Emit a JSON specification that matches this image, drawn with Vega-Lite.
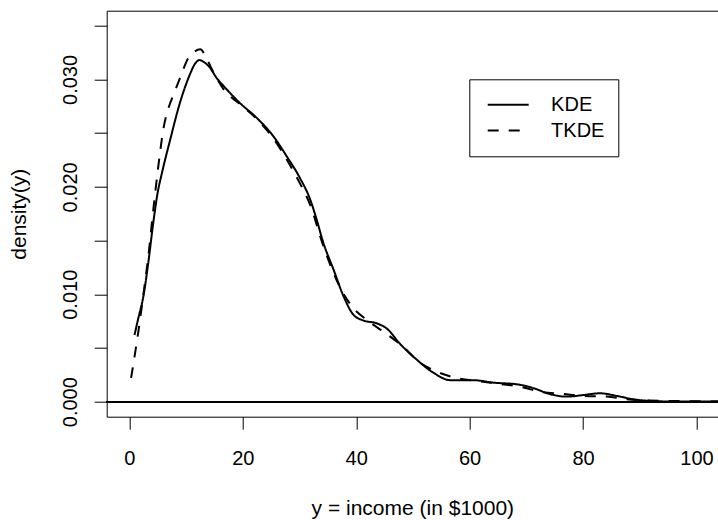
{
  "$schema": "https://vega.github.io/schema/vega-lite/v6.json",
  "width": 611.3,
  "height": 406,
  "autosize": {"type": "none"},
  "padding": {"left": 106.7, "top": 10.7, "right": 0, "bottom": 103.3},
  "background": "white",
  "config": {
    "font": "Liberation Sans",
    "view": {"stroke": "black", "strokeWidth": 1, "strokeDash": [611.3, 3000]},
    "axis": {
      "grid": false,
      "domainColor": "black",
      "tickColor": "black",
      "labelColor": "black",
      "titleColor": "black",
      "labelFont": "Liberation Sans",
      "titleFont": "Liberation Sans",
      "labelFontSize": 20,
      "titleFontSize": 21,
      "titleFontWeight": "normal",
      "tickSize": 12.5,
      "domainWidth": 1,
      "tickWidth": 1
    }
  },
  "data": {
    "values": [
      {"income": 0.9, "density": 0.0062, "method": "KDE"},
      {"income": 1.5, "density": 0.0076, "method": "KDE"},
      {"income": 2.5, "density": 0.0099, "method": "KDE"},
      {"income": 3.3, "density": 0.0128, "method": "KDE"},
      {"income": 4.2, "density": 0.0166, "method": "KDE"},
      {"income": 5.0, "density": 0.0195, "method": "KDE"},
      {"income": 5.7, "density": 0.0212, "method": "KDE"},
      {"income": 7.2, "density": 0.0244, "method": "KDE"},
      {"income": 8.9, "density": 0.0278, "method": "KDE"},
      {"income": 10.7, "density": 0.0305, "method": "KDE"},
      {"income": 11.5, "density": 0.0314, "method": "KDE"},
      {"income": 12.3, "density": 0.0318, "method": "KDE"},
      {"income": 13.2, "density": 0.0316, "method": "KDE"},
      {"income": 14.2, "density": 0.0311, "method": "KDE"},
      {"income": 15.3, "density": 0.0302, "method": "KDE"},
      {"income": 16.6, "density": 0.0294, "method": "KDE"},
      {"income": 18.0, "density": 0.0286, "method": "KDE"},
      {"income": 19.5, "density": 0.0278, "method": "KDE"},
      {"income": 22.5, "density": 0.0264, "method": "KDE"},
      {"income": 25.4, "density": 0.0247, "method": "KDE"},
      {"income": 27.8, "density": 0.0228, "method": "KDE"},
      {"income": 30.1, "density": 0.0208, "method": "KDE"},
      {"income": 31.9, "density": 0.0188, "method": "KDE"},
      {"income": 33.0, "density": 0.0170, "method": "KDE"},
      {"income": 34.2, "density": 0.0148, "method": "KDE"},
      {"income": 36.0, "density": 0.0123, "method": "KDE"},
      {"income": 37.7, "density": 0.0099, "method": "KDE"},
      {"income": 39.5, "density": 0.0081, "method": "KDE"},
      {"income": 41.3, "density": 0.00755, "method": "KDE"},
      {"income": 43.6, "density": 0.0073, "method": "KDE"},
      {"income": 45.4, "density": 0.0068, "method": "KDE"},
      {"income": 47.7, "density": 0.0054, "method": "KDE"},
      {"income": 50.7, "density": 0.0039, "method": "KDE"},
      {"income": 53.6, "density": 0.0027, "method": "KDE"},
      {"income": 56.6, "density": 0.0020, "method": "KDE"},
      {"income": 60.7, "density": 0.0020, "method": "KDE"},
      {"income": 64.2, "density": 0.00177, "method": "KDE"},
      {"income": 68.3, "density": 0.00162, "method": "KDE"},
      {"income": 71.3, "density": 0.00125, "method": "KDE"},
      {"income": 74.2, "density": 0.0007, "method": "KDE"},
      {"income": 77.1, "density": 0.00047, "method": "KDE"},
      {"income": 80.1, "density": 0.00062, "method": "KDE"},
      {"income": 83.0, "density": 0.00078, "method": "KDE"},
      {"income": 86.0, "density": 0.00053, "method": "KDE"},
      {"income": 88.9, "density": 0.00022, "method": "KDE"},
      {"income": 91.8, "density": 0.00007, "method": "KDE"},
      {"income": 95.0, "density": 0.00002, "method": "KDE"},
      {"income": 100.0, "density": 0.00001, "method": "KDE"},
      {"income": 103.8, "density": 0.0, "method": "KDE"},
      {"income": 0.3, "density": 0.0022, "method": "TKDE"},
      {"income": 1.0, "density": 0.0045, "method": "TKDE"},
      {"income": 1.6, "density": 0.0066, "method": "TKDE"},
      {"income": 2.2, "density": 0.0089, "method": "TKDE"},
      {"income": 2.8, "density": 0.0113, "method": "TKDE"},
      {"income": 3.4, "density": 0.0138, "method": "TKDE"},
      {"income": 4.0, "density": 0.0168, "method": "TKDE"},
      {"income": 4.5, "density": 0.0192, "method": "TKDE"},
      {"income": 5.1, "density": 0.0219, "method": "TKDE"},
      {"income": 6.0, "density": 0.0254, "method": "TKDE"},
      {"income": 7.0, "density": 0.0275, "method": "TKDE"},
      {"income": 7.8, "density": 0.0286, "method": "TKDE"},
      {"income": 8.9, "density": 0.0301, "method": "TKDE"},
      {"income": 10.4, "density": 0.0320, "method": "TKDE"},
      {"income": 11.5, "density": 0.0326, "method": "TKDE"},
      {"income": 12.5, "density": 0.0328, "method": "TKDE"},
      {"income": 13.4, "density": 0.0322, "method": "TKDE"},
      {"income": 14.5, "density": 0.0310, "method": "TKDE"},
      {"income": 16.6, "density": 0.0291, "method": "TKDE"},
      {"income": 19.5, "density": 0.0277, "method": "TKDE"},
      {"income": 22.5, "density": 0.0263, "method": "TKDE"},
      {"income": 25.4, "density": 0.0245, "method": "TKDE"},
      {"income": 27.8, "density": 0.0225, "method": "TKDE"},
      {"income": 30.1, "density": 0.0203, "method": "TKDE"},
      {"income": 31.9, "density": 0.0183, "method": "TKDE"},
      {"income": 34.2, "density": 0.0145, "method": "TKDE"},
      {"income": 37.2, "density": 0.0106, "method": "TKDE"},
      {"income": 39.2, "density": 0.0089, "method": "TKDE"},
      {"income": 41.9, "density": 0.0076, "method": "TKDE"},
      {"income": 45.1, "density": 0.0064, "method": "TKDE"},
      {"income": 48.3, "density": 0.0051, "method": "TKDE"},
      {"income": 51.3, "density": 0.0036, "method": "TKDE"},
      {"income": 54.2, "density": 0.0028, "method": "TKDE"},
      {"income": 57.7, "density": 0.0022, "method": "TKDE"},
      {"income": 61.8, "density": 0.0019, "method": "TKDE"},
      {"income": 65.4, "density": 0.00165, "method": "TKDE"},
      {"income": 68.9, "density": 0.0014, "method": "TKDE"},
      {"income": 72.4, "density": 0.00093, "method": "TKDE"},
      {"income": 76.5, "density": 0.00072, "method": "TKDE"},
      {"income": 80.1, "density": 0.00053, "method": "TKDE"},
      {"income": 84.2, "density": 0.00047, "method": "TKDE"},
      {"income": 87.7, "density": 0.00022, "method": "TKDE"},
      {"income": 91.8, "density": 0.0001, "method": "TKDE"},
      {"income": 96.0, "density": 0.00006, "method": "TKDE"},
      {"income": 103.8, "density": 0.00004, "method": "TKDE"}
    ]
  },
  "layer": [
    {
      "mark": {"type": "line", "color": "black", "strokeWidth": 2, "interpolate": "monotone"},
      "encoding": {
        "x": {
          "field": "income",
          "type": "quantitative",
          "scale": {"domain": [-4, 103.8], "nice": false, "zero": false},
          "axis": {
            "title": "y = income (in $1000)",
            "values": [0, 20, 40, 60, 80, 100],
            "labelPadding": 19,
            "labelFlush": false,
            "labelOverlap": false,
            "titleY": 97.8,
            "titleBaseline": "alphabetic"
          }
        },
        "y": {
          "field": "density",
          "type": "quantitative",
          "scale": {"domain": [-0.0014, 0.0364], "nice": false, "zero": false},
          "axis": {
            "title": "density(y)",
            "values": [0, 0.005, 0.01, 0.015, 0.02, 0.025, 0.03, 0.035],
            "labelExpr": "round(datum.value*1000) % 10 == 0 ? format(datum.value, '.3f') : ''",
            "labelAngle": -90,
            "labelAlign": "center",
            "labelBaseline": "alphabetic",
            "labelPadding": 18.2,
            "labelOverlap": false,
            "labelFlush": false,
            "titleX": -81.7,
            "titleBaseline": "alphabetic",
            "titleAngle": -90
          }
        },
        "strokeDash": {
          "field": "method",
          "type": "nominal",
          "scale": {"domain": ["KDE", "TKDE"], "range": [[1, 0], [11, 10]]},
          "legend": {
            "title": null,
            "orient": "none",
            "legendX": 362.6,
            "legendY": 68.6,
            "direction": "vertical",
            "strokeColor": "black",
            "fillColor": "white",
            "padding": 13,
            "symbolType": "stroke",
            "symbolSize": 1681,
            "symbolStrokeWidth": 2,
            "symbolStrokeColor": "black",
            "symbolOffset": 4.4,
            "labelOffset": 21.4,
            "labelFontSize": 20,
            "labelFont": "Liberation Sans",
            "labelColor": "black",
            "clipHeight": 25,
            "rowPadding": 0.7
          }
        }
      }
    },
    {
      "mark": {"type": "rule", "color": "black", "strokeWidth": 1},
      "encoding": {"y": {"datum": 0}}
    }
  ]
}
